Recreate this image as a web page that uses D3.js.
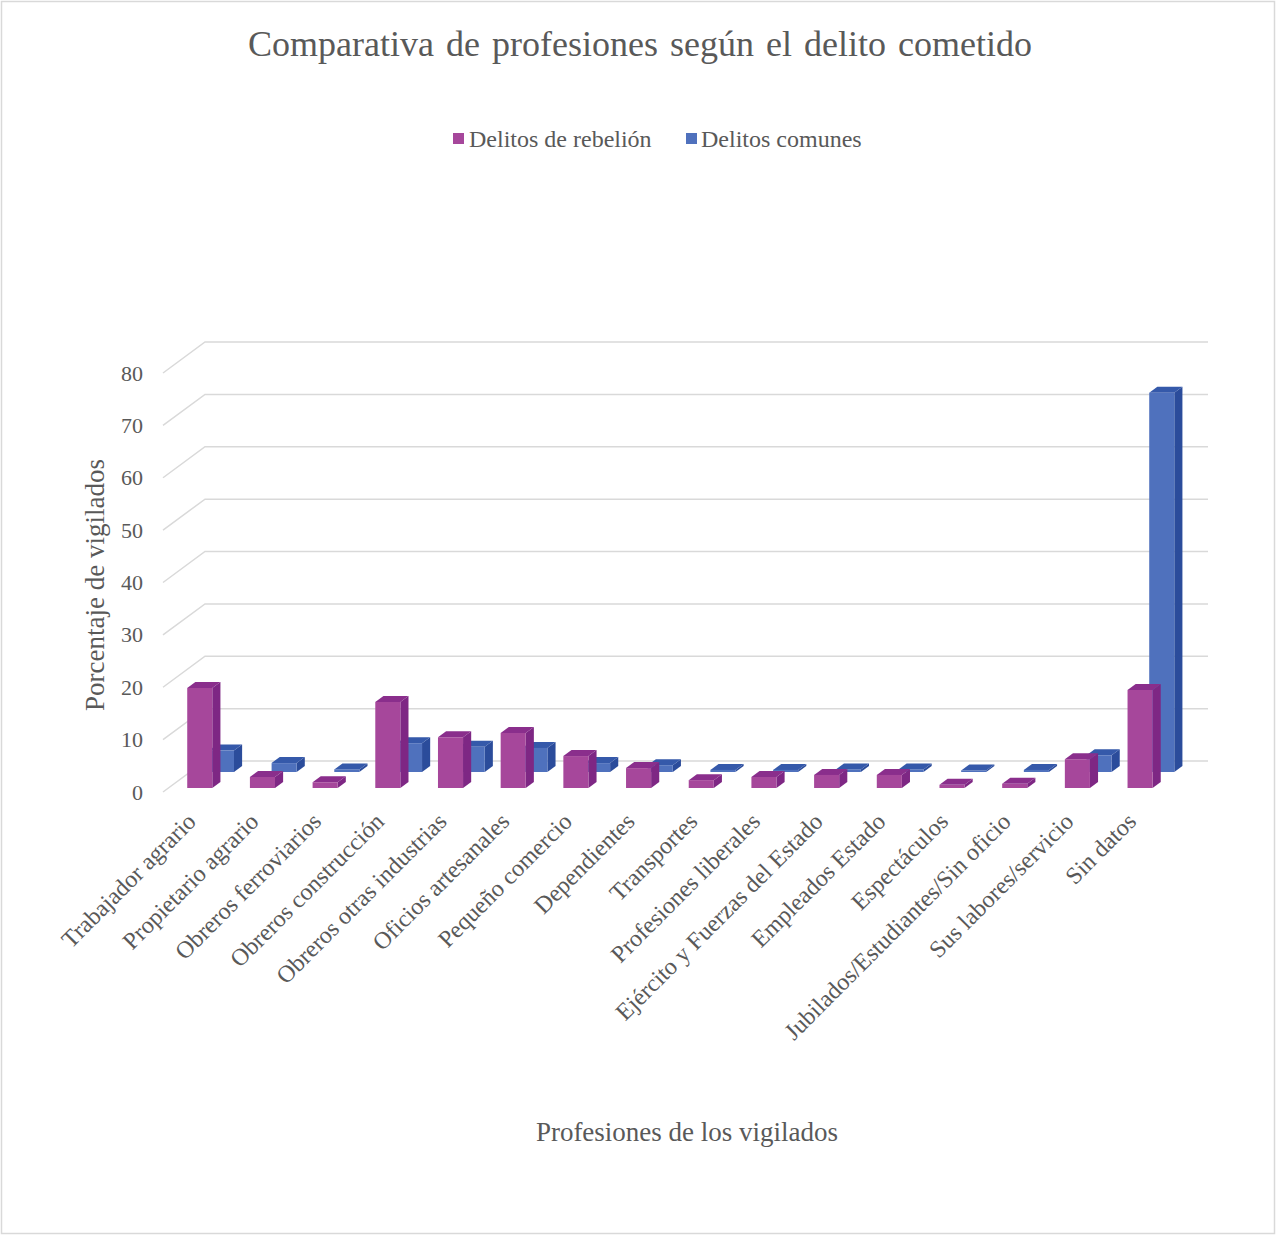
<!DOCTYPE html>
<html>
<head>
<meta charset="utf-8">
<script src="https://cdn.jsdelivr.net/npm/d3@7"></script>
<style>
  html, body { margin: 0; padding: 0; background: #fff; }
  svg { display: block; }
  text { font-family: "Liberation Serif", "Times New Roman", serif; fill: #595959; }
</style>
</head>
<body>
<svg id="chart" width="1277" height="1236"></svg>
<script>
// Professions of the monitored people
const categories = [
  "Trabajador agrario", "Propietario agrario", "Obreros ferroviarios",
  "Obreros construcción", "Obreros otras industrias", "Oficios artesanales",
  "Pequeño comercio", "Dependientes", "Transportes", "Profesiones liberales",
  "Ejército y Fuerzas del Estado", "Empleados Estado", "Espectáculos",
  "Jubilados/Estudiantes/Sin oficio", "Sus labores/servicio", "Sin datos"
];
// Percentage of monitored people per offence type
const rebelion = [19.1, 2.1, 1.1, 16.4, 9.7, 10.5, 6.1, 3.8, 1.5, 2.1, 2.5, 2.5, 0.6, 0.8, 5.5, 18.7];
const comunes  = [4.1, 1.7, 0.5, 5.5, 4.8, 4.6, 1.7, 1.3, 0.4, 0.4, 0.5, 0.5, 0.3, 0.4, 3.2, 72.4];
const yTicks = [0, 10, 20, 30, 40, 50, 60, 70, 80];
const seriesNames = ["Delitos de rebelión", "Delitos comunes"];

const svg = d3.select("#chart");

// outer frame
svg.append("rect")
  .attr("x", 1.5).attr("y", 1.5).attr("width", 1273).attr("height", 1232)
  .attr("fill", "#fff").attr("stroke", "#d9d9d9").attr("stroke-width", 1.5);

// Oblique 3D projection: wall coordinates (x, value) pushed toward the viewer by depth d (px)
const wallLeft = 205, wallRight = 1208;
const y = d3.scaleLinear().domain([0, 80]).range([761, 342]);
const x = d3.scaleBand().domain(categories).range([wallLeft, wallRight])
  .paddingInner(0.6).paddingOuter(0.3);
const slope = 42 / 31;           // horizontal shift per px of depth
const floorDepth = 31;
const proj = (wx, v, d) => [wx - d * slope, y(v) + d];

// gridlines: diagonal on the side wall, horizontal on the back wall
const grid = svg.append("g").attr("stroke", "#d9d9d9").attr("stroke-width", 1.5).attr("fill", "none");
yTicks.forEach(t => {
  const p0 = proj(wallLeft, t, floorDepth);
  const p1 = proj(wallLeft, t, 0);
  const p2 = proj(wallRight, t, 0);
  grid.append("polyline").attr("points", [p0, p1, p2].map(p => p.join(",")).join(" "));
});

// value axis on the front edge
const yFront = d3.scaleLinear().domain([0, 80]).range([y(0) + floorDepth, y(80) + floorDepth]);
const yAxis = svg.append("g").attr("transform", "translate(143,0)")
  .call(d3.axisLeft(yFront).tickValues(yTicks).tickSize(0).tickPadding(0));
yAxis.select(".domain").remove();
yAxis.selectAll("text").attr("font-size", 22).attr("fill", "#595959")
  .attr("font-family", "Liberation Serif, Times New Roman, serif");

// bars
const series = [
  { values: comunes,  depth: 11, front: "#4f71bd", side: "#2b4c9b", top: "#3559aa" },
  { values: rebelion, depth: 27, front: "#a6479b", side: "#7e2784", top: "#8a2e8c" }
];
const barDepth = 6;
const poly = pts => pts.map(p => p.join(",")).join(" ");

series.forEach(s => {
  const g = svg.append("g");
  categories.forEach((c, i) => {
    const v = s.values[i];
    const x0 = x(c), x1 = x(c) + x.bandwidth();
    const d0 = s.depth, d1 = s.depth - barDepth;
    g.append("polygon").attr("fill", s.side)
      .attr("points", poly([proj(x1, 0, d0), proj(x1, 0, d1), proj(x1, v, d1), proj(x1, v, d0)]));
    g.append("polygon").attr("fill", s.top)
      .attr("points", poly([proj(x0, v, d0), proj(x1, v, d0), proj(x1, v, d1), proj(x0, v, d1)]));
    g.append("polygon").attr("fill", s.front)
      .attr("points", poly([proj(x0, 0, d0), proj(x1, 0, d0), proj(x1, v, d0), proj(x0, v, d0)]));
  });
});

// category labels, rotated
const labelY = 823;
svg.append("g").selectAll("text").data(categories).join("text")
  .attr("transform", c => {
    const cx = x(c) + x.bandwidth() / 2 - floorDepth * slope + 3;
    return `translate(${cx},${labelY}) rotate(-45)`;
  })
  .attr("text-anchor", "end")
  .attr("font-size", 24)
  .text(c => c);

// title
svg.append("text").attr("x", 640).attr("y", 56).attr("text-anchor", "middle")
  .attr("font-size", 36).attr("word-spacing", 3)
  .text("Comparativa de profesiones según el delito cometido");

// legend
const legend = svg.append("g");
const legendItems = [
  { name: seriesNames[0], color: "#a6479b", x: 453, tx: 469 },
  { name: seriesNames[1], color: "#4f71bd", x: 686, tx: 701 }
];
legendItems.forEach(it => {
  legend.append("rect").attr("x", it.x).attr("y", 133).attr("width", 11).attr("height", 11).attr("fill", it.color);
  legend.append("text").attr("x", it.tx).attr("y", 147).attr("font-size", 24).text(it.name);
});

// axis titles
svg.append("text").attr("transform", "translate(104,585) rotate(-90)")
  .attr("text-anchor", "middle").attr("font-size", 27).text("Porcentaje de vigilados");
svg.append("text").attr("x", 687).attr("y", 1141).attr("text-anchor", "middle")
  .attr("font-size", 27).text("Profesiones de los vigilados");
</script>
</body>
</html>
